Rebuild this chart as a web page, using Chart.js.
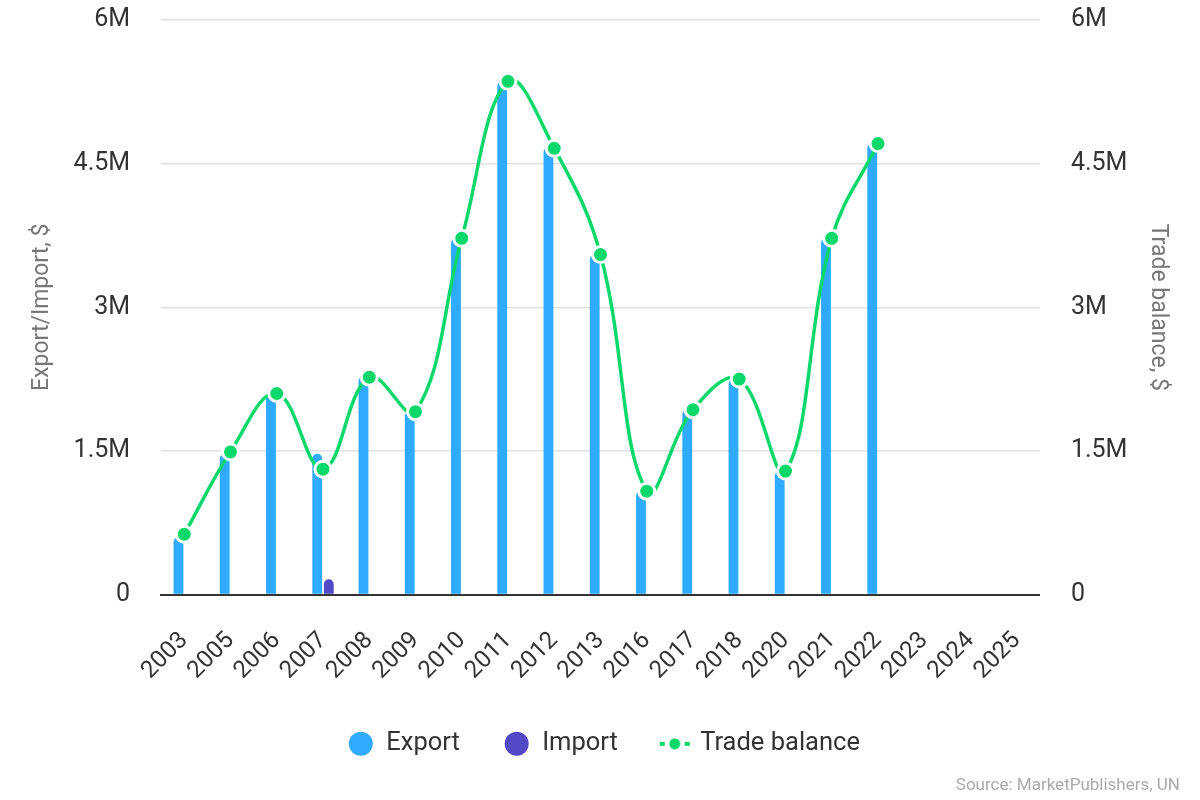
<!DOCTYPE html>
<html lang="en">
<head>
    <meta charset="UTF-8">
    <title>Export / Import / Trade balance</title>
    <script src="https://cdn.jsdelivr.net/npm/chart.js"></script>
    <style>
        html, body { margin: 0; padding: 0; background: #fff; }
        #wrap { width: 1200px; height: 800px; position: relative; }
    </style>
</head>
<body>
<div id="wrap"><canvas id="tradeChart" width="1200" height="800"></canvas></div>
<script>
    // Data (values in $)
    const years = ['2003', '2005', '2006', '2007', '2008', '2009', '2010', '2011', '2012', '2013',
                   '2016', '2017', '2018', '2020', '2021', '2022', '2023', '2024', '2025'];
    const exportValues = [600000, 1470000, 2100000, 1470000, 2280000, 1910000, 3720000, 5360000, 4670000, 3550000,
                          1080000, 1930000, 2250000, 1290000, 3720000, 4710000, null, null, null];
    const importValues = [0, 0, 0, 160000, 10000, 0, 0, 0, 10000, 0,
                          0, 0, 0, 0, 0, 0, null, null, null];
    const balanceValues = [630000, 1490000, 2100000, 1310000, 2270000, 1910000, 3720000, 5360000, 4660000, 3550000,
                           1080000, 1930000, 2250000, 1290000, 3720000, 4710000, null, null, null];

    const exportColor = '#2eaaff';
    const importColor = '#5349c6';
    const balanceColor = '#0bd86b';

    function fmt(v) {
        if (v === 0) return '0';
        return (v / 1000000) + 'M';
    }

    // small legend glyph for the trade balance line: dash - dot - dash
    function balanceGlyph() {
        const c = document.createElement('canvas');
        c.width = 34; c.height = 14;
        const g = c.getContext('2d');
        g.fillStyle = balanceColor;
        g.fillRect(2, 5, 5, 4);
        g.fillRect(27, 5, 5, 4);
        g.beginPath();
        g.arc(17, 7, 5.5, 0, Math.PI * 2);
        g.fill();
        return c;
    }

    const tickFont = { family: 'Roboto', size: 25 };

    new Chart(document.getElementById('tradeChart').getContext('2d'), {
        type: 'bar',
        data: {
            labels: years,
            datasets: [
                {
                    type: 'line',
                    label: 'Trade balance',
                    data: balanceValues,
                    yAxisID: 'y1',
                    borderColor: balanceColor,
                    backgroundColor: balanceColor,
                    borderWidth: 3.5,
                    tension: 0.4,
                    pointRadius: 8,
                    pointBorderWidth: 3,
                    pointBorderColor: '#ffffff',
                    pointBackgroundColor: balanceColor,
                    fill: false,
                    order: 0
                },
                {
                    label: 'Export',
                    data: exportValues,
                    backgroundColor: exportColor,
                    borderRadius: 6,
                    borderSkipped: 'bottom',
                    categoryPercentage: 0.5,
                    barPercentage: 0.85,
                    order: 1
                },
                {
                    label: 'Import',
                    data: importValues,
                    backgroundColor: importColor,
                    borderRadius: 6,
                    borderSkipped: 'bottom',
                    categoryPercentage: 0.5,
                    barPercentage: 0.85,
                    order: 2
                }
            ]
        },
        options: {
            responsive: false,
            animation: false,
            layout: { padding: { left: 28, right: 20, top: 4, bottom: 4 } },
            plugins: {
                legend: {
                    position: 'bottom',
                    labels: {
                        font: { family: 'Roboto', size: 25.5 },
                        color: '#333',
                        usePointStyle: true,
                        boxHeight: 17,
                        padding: 44,
                        sort: (a, b) => ['Export', 'Import', 'Trade balance'].indexOf(a.text) - ['Export', 'Import', 'Trade balance'].indexOf(b.text),
                        generateLabels: function (chart) {
                            const items = Chart.defaults.plugins.legend.labels.generateLabels(chart);
                            items.forEach(it => {
                                if (it.text === 'Trade balance') {
                                    it.pointStyle = balanceGlyph();
                                } else {
                                    it.pointStyle = 'circle';
                                    it.lineWidth = 0;
                                }
                            });
                            return items;
                        }
                    }
                },
                subtitle: {
                    display: true,
                    position: 'bottom',
                    align: 'end',
                    text: 'Source: MarketPublishers, UN',
                    color: '#aaa',
                    font: { family: 'Roboto', size: 17 },
                    padding: { top: 9, bottom: 0 }
                },
                tooltip: { enabled: false }
            },
            scales: {
                x: {
                    grid: { display: false, drawTicks: true, tickLength: 30, tickColor: 'transparent' },
                    border: { color: '#333', width: 2 },
                    ticks: {
                        font: { family: 'Roboto', size: 24 },
                        color: '#333',
                        maxRotation: 45,
                        minRotation: 45,
                        padding: 2
                    }
                },
                y: {
                    position: 'left',
                    min: 0,
                    max: 6000000,
                    ticks: {
                        stepSize: 1500000,
                        callback: fmt,
                        font: tickFont,
                        color: '#333',
                        padding: 5
                    },
                    grid: { color: '#e2e2e2', lineWidth: 1.5, drawTicks: true, tickLength: 26, tickColor: 'transparent' },
                    border: { display: false },
                    title: {
                        display: true,
                        text: 'Export/Import, $',
                        font: { family: 'Roboto', size: 23 },
                        color: '#777',
                        padding: { top: 0, bottom: 13 }
                    }
                },
                y1: {
                    position: 'right',
                    min: 0,
                    max: 6000000,
                    ticks: {
                        stepSize: 1500000,
                        callback: fmt,
                        font: tickFont,
                        color: '#333',
                        padding: 5
                    },
                    grid: { display: false, drawTicks: true, tickLength: 26, tickColor: 'transparent' },
                    border: { display: false },
                    title: {
                        display: true,
                        text: 'Trade balance, $',
                        font: { family: 'Roboto', size: 23 },
                        color: '#777',
                        padding: { top: 8, bottom: 12 }
                    }
                }
            }
        }
    });
</script>
</body>
</html>
